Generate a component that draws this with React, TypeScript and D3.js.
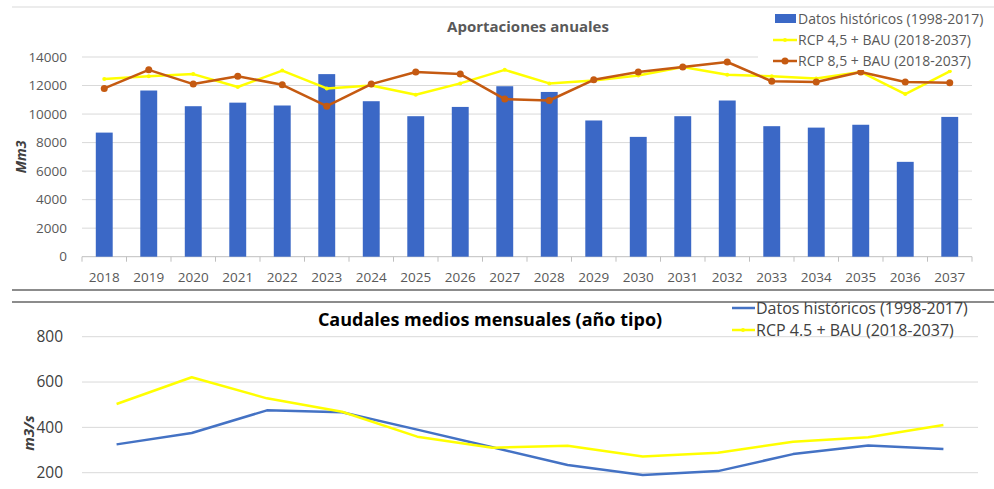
import * as d3 from "d3"

const YEARS = [
  "2018", "2019", "2020", "2021", "2022", "2023", "2024", "2025", "2026", "2027",
  "2028", "2029", "2030", "2031", "2032", "2033", "2034", "2035", "2036", "2037",
]
const HIST_ANNUAL = [
  8700, 11650, 10550, 10800, 10600, 12800, 10900, 9850, 10500, 11950,
  11550, 9550, 8400, 9850, 10950, 9150, 9050, 9250, 6650, 9800,
]
const RCP45_ANNUAL = [
  12450, 12650, 12800, 11900, 13050, 11800, 12000, 11350, 12150, 13100,
  12150, 12350, 12700, 13300, 12750, 12650, 12500, 12950, 11400, 13000,
]
const RCP85_ANNUAL = [
  11800, 13100, 12100, 12650, 12050, 10550, 12100, 12950, 12800, 11050,
  10950, 12400, 12950, 13300, 13650, 12300, 12250, 12950, 12250, 12200,
]
const TOP_TICKS = [0, 2000, 4000, 6000, 8000, 10000, 12000, 14000]

const MONTHS = ["oct", "nov", "dic", "ene", "feb", "mar", "abr", "may", "jun", "jul", "ago", "sep"]
const HIST_MONTHLY = [325, 375, 475, 467, 390, 312, 234, 190, 207, 282, 320, 305]
const RCP45_MONTHLY = [503, 621, 528, 469, 359, 310, 319, 271, 288, 337, 356, 410]
const BOTTOM_TICKS = [200, 400, 600, 800]

const FONT = "'Open Sans', sans-serif"
const BLUE_BAR = "#3b68c6"
const BLUE_LINE = "#4472c4"
const YELLOW = "#ffff00"
const ORANGE = "#c55a11"
const GRID = "#d9d9d9"
const TEXT = "#595959"

export default function App() {
  const width = 994
  const height = 489

  // top chart: annual inflows
  const x = d3.scaleBand<string>().domain(YEARS).range([82, 972]).paddingInner(0.62).paddingOuter(0.31)
  const xBand = d3.scaleBand<string>().domain(YEARS).range([82, 972])
  const y = d3.scaleLinear().domain([0, 14000]).range([256.7, 57])
  const cx = (i: number) => (xBand(YEARS[i]) ?? 0) + xBand.bandwidth() / 2
  const lineTop = d3
    .line<number>()
    .x((_, i) => cx(i))
    .y((d) => y(d))

  // bottom chart: monthly mean flows
  const xm = d3.scalePoint<string>().domain(MONTHS).range([79, 981]).padding(0.5)
  const ym = d3.scaleLinear().domain([200, 800]).range([472.7, 336.7])
  const lineBottom = d3
    .line<number>()
    .x((_, i) => xm(MONTHS[i]) ?? 0)
    .y((d) => ym(d))

  return (
    <svg
      width={width}
      height={height}
      style={{ position: "absolute", left: 0, top: 0, background: "#fff" }}
      fontFamily={FONT}
    >
      <rect width={width} height={height} fill="#fff" />
      <line x1={12} x2={994} y1={7} y2={7} stroke="#ececec" strokeWidth={2} />

      {/* top chart */}
      <g>
        {TOP_TICKS.map((t) => (
          <g key={t}>
            <line x1={82} x2={972} y1={y(t)} y2={y(t)} stroke={t === 0 ? "#bfbfbf" : GRID} strokeWidth={1} />
            <text x={67} y={y(t)} dy="0.35em" textAnchor="end" fontSize={13.5} fill={TEXT}>
              {t}
            </text>
          </g>
        ))}
        {YEARS.map((yr, i) => (
          <line
            key={yr}
            x1={82 + xBand.bandwidth() * i}
            x2={82 + xBand.bandwidth() * i}
            y1={y(0)}
            y2={y(0) + 5}
            stroke="#bfbfbf"
          />
        ))}
        <line x1={972} x2={972} y1={y(0)} y2={y(0) + 5} stroke="#bfbfbf" />
        {YEARS.map((yr, i) => (
          <rect
            key={yr}
            x={x(yr)}
            y={y(HIST_ANNUAL[i])}
            width={x.bandwidth()}
            height={y(0) - y(HIST_ANNUAL[i])}
            fill={BLUE_BAR}
          />
        ))}
        {YEARS.map((yr, i) => (
          <text key={yr} x={cx(i)} y={282} textAnchor="middle" fontSize={13.5} fill={TEXT}>
            {yr}
          </text>
        ))}
        <path d={lineTop(RCP45_ANNUAL) ?? ""} fill="none" stroke={YELLOW} strokeWidth={2.5} strokeLinejoin="round" />
        {RCP45_ANNUAL.map((v, i) => (
          <circle key={i} cx={cx(i)} cy={y(v)} r={2} fill={YELLOW} />
        ))}
        <path d={lineTop(RCP85_ANNUAL) ?? ""} fill="none" stroke={ORANGE} strokeWidth={2.5} strokeLinejoin="round" />
        {RCP85_ANNUAL.map((v, i) => (
          <circle key={i} cx={cx(i)} cy={y(v)} r={3.5} fill={ORANGE} />
        ))}
        <text x={528} y={32} textAnchor="middle" fontSize={15} fontWeight="bold" fill={TEXT}>
          Aportaciones anuales
        </text>
        <text
          transform="translate(26,157) rotate(-90)"
          textAnchor="middle"
          fontSize={14}
          fontWeight="bold"
          fontStyle="italic"
          fill="#404040"
        >
          Mm3
        </text>

        {/* legend */}
        <rect x={758} y={8} width={236} height={62} fill="#fff" />
        <rect x={775} y={14} width={21} height={9} fill={BLUE_BAR} />
        <text x={798} y={19} dy="0.35em" fontSize={14} fill={TEXT}>
          Datos históricos (1998-2017)
        </text>
        <line x1={773} x2={797} y1={40} y2={40} stroke={YELLOW} strokeWidth={2.5} />
        <circle cx={785} cy={40} r={2} fill={YELLOW} />
        <text x={798} y={40} dy="0.35em" fontSize={14} fill={TEXT}>
          RCP 4,5 + BAU (2018-2037)
        </text>
        <line x1={773} x2={797} y1={61} y2={61} stroke={ORANGE} strokeWidth={2.5} />
        <circle cx={785} cy={61} r={3.5} fill={ORANGE} />
        <text x={798} y={61} dy="0.35em" fontSize={14} fill={TEXT}>
          RCP 8,5 + BAU (2018-2037)
        </text>
      </g>

      {/* separators */}
      <line x1={12} x2={994} y1={290} y2={290} stroke="#8c8c8c" strokeWidth={2} />
      <line x1={12} x2={994} y1={302} y2={302} stroke="#8c8c8c" strokeWidth={2} />

      {/* bottom chart */}
      <g>
        {BOTTOM_TICKS.map((t) => (
          <g key={t}>
            <line x1={82} x2={978} y1={ym(t)} y2={ym(t)} stroke={GRID} strokeWidth={1} />
            <text x={63} y={ym(t)} dy="0.35em" textAnchor="end" fontSize={15.5} fill="#404040">
              {t}
            </text>
          </g>
        ))}
        <path d={lineBottom(HIST_MONTHLY) ?? ""} fill="none" stroke={BLUE_LINE} strokeWidth={2.5} strokeLinejoin="round" />
        <path d={lineBottom(RCP45_MONTHLY) ?? ""} fill="none" stroke={YELLOW} strokeWidth={2.5} strokeLinejoin="round" />
        <text x={490} y={326} textAnchor="middle" fontSize={18} fontWeight="bold" fill="#000">
          Caudales medios mensuales (año tipo)
        </text>
        <text
          transform="translate(34,433) rotate(-90)"
          textAnchor="middle"
          fontSize={15}
          fontWeight="bold"
          fontStyle="italic"
          fill="#404040"
        >
          m3/s
        </text>
        <line x1={732} x2={755} y1={308} y2={308} stroke={BLUE_LINE} strokeWidth={2.5} />
        <text x={756} y={308} dy="0.35em" fontSize={16} fill="#404040">
          Datos históricos (1998-2017)
        </text>
        <line x1={732} x2={755} y1={330} y2={330} stroke={YELLOW} strokeWidth={2.5} />
        <circle cx={743} cy={330} r={2} fill={YELLOW} />
        <text x={756} y={330} dy="0.35em" fontSize={16} fill="#404040">
          RCP 4.5 + BAU (2018-2037)
        </text>
      </g>
    </svg>
  )
}
